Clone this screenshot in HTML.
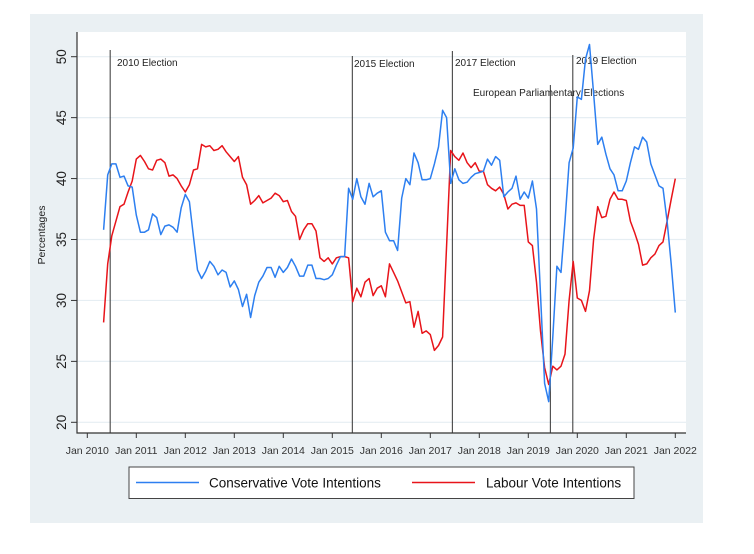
<!DOCTYPE html>
<html><head><meta charset="utf-8"><style>
html,body{margin:0;padding:0;background:#fff;}
svg{display:block;font-family:"Liberation Sans",Arial,sans-serif;}
</style></head><body>
<svg id="chart" width="754" height="554" viewBox="0 0 754 554">
<rect x="30" y="14" width="673" height="509" fill="#eaf0f3"/>
<rect x="77" y="32" width="609" height="401" fill="#ffffff"/>
<g id="grid"></g>
<g id="vlines"></g>
<g id="series"></g>
<g id="axes"></g>
<text transform="translate(45,235) rotate(-90)" text-anchor="middle" font-size="10.5" fill="#222">Percentages</text>
<g>
<rect x="129" y="467" width="505" height="31.5" fill="#fff" stroke="#444" stroke-width="1"/>
<line x1="136" y1="482.5" x2="199" y2="482.5" stroke="#2d7ff0" stroke-width="1.6"/>
<text x="209" y="487.5" font-size="13.5" fill="#111">Conservative Vote Intentions</text>
<line x1="412" y1="482.5" x2="475" y2="482.5" stroke="#e8141a" stroke-width="1.6"/>
<text x="486" y="487.5" font-size="13.5" fill="#111">Labour Vote Intentions</text>
</g>
</svg>
<script>
const yTicks = [20,25,30,35,40,45,50];
const xTickLabels = ["Jan 2010","Jan 2011","Jan 2012","Jan 2013","Jan 2014","Jan 2015","Jan 2016","Jan 2017","Jan 2018","Jan 2019","Jan 2020","Jan 2021","Jan 2022"];
const startMonth = 4; // May 2010, months since Jan 2010
const conservative = [
35.8,40.3,41.2,41.2,40.1,40.2,39.4,39.3,
37.0,35.6,35.6,35.8,37.1,36.8,35.4,36.1,36.2,36.0,35.6,37.6,
38.7,38.1,35.2,32.5,31.8,32.4,33.2,32.8,32.1,32.5,32.3,31.1,
31.6,30.9,29.5,30.5,28.6,30.4,31.5,32.0,32.7,32.7,31.9,32.8,
32.3,32.7,33.4,32.8,32.0,32.0,32.9,32.9,31.8,31.8,31.7,31.8,
32.1,32.9,33.6,33.6,39.2,38.3,40.0,38.5,37.9,39.6,38.5,38.8,
39.0,35.6,34.9,34.9,34.1,38.4,40.0,39.5,42.1,41.3,39.9,39.9,
40.0,41.2,42.6,45.6,45.0,39.6,40.8,39.9,39.6,39.7,40.1,40.4,
40.5,40.6,41.6,41.1,41.8,41.5,38.5,38.9,39.2,40.2,38.3,38.9,
38.4,39.8,37.5,30.5,23.2,21.7,27.0,32.8,32.3,36.5,41.3,42.5,
46.7,46.5,49.8,51.0,47.0,42.8,43.4,42.0,40.8,40.3,39.0,39.0,
39.8,41.3,42.6,42.4,43.4,43.0,41.2,40.3,39.4,39.2,36.5,33.0,
29.0];
const labour = [
28.2,33.0,35.3,36.5,37.7,37.9,38.9,39.8,
41.6,41.9,41.4,40.8,40.7,41.5,41.6,41.3,40.2,40.3,40.0,39.4,
38.9,39.5,40.7,40.8,42.8,42.6,42.7,42.3,42.4,42.7,42.2,41.8,
41.4,41.8,40.1,39.5,37.9,38.2,38.6,38.0,38.2,38.4,38.8,38.6,
38.1,38.2,37.3,36.9,35.0,35.8,36.3,36.3,35.7,33.5,33.2,33.5,
33.0,33.5,33.6,33.6,33.5,29.9,31.0,30.3,31.5,31.8,30.4,31.0,
31.2,30.3,33.0,32.3,31.6,30.7,29.8,29.9,27.8,29.1,27.3,27.5,
27.2,25.9,26.3,27.0,34.5,42.3,41.8,41.5,42.1,41.3,40.9,41.3,
40.6,40.6,39.5,39.2,39.0,39.3,38.7,37.5,37.9,38.0,37.8,37.8,
34.8,34.5,31.5,27.5,24.5,23.1,24.6,24.3,24.6,25.6,30.0,33.2,
30.2,30.0,29.1,30.8,35.0,37.7,36.8,36.9,38.3,38.9,38.3,38.3,
38.2,36.5,35.6,34.6,32.9,33.0,33.5,33.8,34.5,34.8,36.5,38.3,
40.0];
const eventNames = ["2010 Election","2015 Election","2017 Election","European Parliamentary Elections","2019 Election"];
const eventMonths = [5.6,64.9,89.4,113.4,118.9];

const NS="http://www.w3.org/2000/svg";
function xScale(m){return 87.3 + m*(588/144);}
function yScale(v){return 422.3 - (v-20)*(365.6/30);}
function mk(tag,attrs,parent){const e=document.createElementNS(NS,tag);for(const k in attrs)e.setAttribute(k,attrs[k]);parent.appendChild(e);return e;}
const grid=document.getElementById('grid'),axes=document.getElementById('axes'),series=document.getElementById('series'),vl=document.getElementById('vlines');

yTicks.forEach(function(v){
  const y=yScale(v);
  const g=mk('line',{x1:77,x2:686,y1:y,y2:y,stroke:'#e6eef3','stroke-width':1.2},grid);
  
  
  const t=mk('line',{x1:71,x2:77,y1:y,y2:y,stroke:'#333','stroke-width':1},axes);
  
  
  const l=mk('text',{transform:'translate(66,'+y+') rotate(-90)','text-anchor':'middle','font-size':13.5,fill:'#222'},axes);
  l.textContent=v;
  
  
});
xTickLabels.forEach(function(lbl,i){
  const x=xScale(i*12);
  const t=mk('line',{x1:x,x2:x,y1:433,y2:438,stroke:'#333','stroke-width':1},axes);
  
  
  const l=mk('text',{x:x,y:454,'text-anchor':'middle','font-size':10.5,fill:'#333'},axes);
  l.textContent=lbl;
  
  
});
const ax=mk('path',{d:'M77,32 V433 H686',fill:'none',stroke:'#333','stroke-width':1.2},axes);



const evTops=[50,56,51,85,55];
const evLabelPos=[[117,66],[354,67],[455,66],[473,96],[576,64]];
eventNames.forEach(function(n,i){
  const x=xScale(eventMonths[i]);
  const l=mk('line',{x1:x,x2:x,y1:evTops[i],y2:433,stroke:'#333','stroke-width':1},vl);
  
  
  const t=mk('text',{x:evLabelPos[i][0],y:evLabelPos[i][1],'font-size':10,fill:'#222'},vl);
  t.textContent=n;
  
  
});

function path(vals,color,name){
  const d=vals.map(function(v,i){return (i?'L':'M')+xScale(startMonth+i).toFixed(1)+','+yScale(v).toFixed(1);}).join(' ');
  const p=mk('path',{d:d,fill:'none',stroke:color,'stroke-width':1.5,'stroke-linejoin':'round'},series);
  
  
}
path(labour,'#e8141a','labour-line');
path(conservative,'#2d7ff0','conservative-line');
</script>
</body></html>
